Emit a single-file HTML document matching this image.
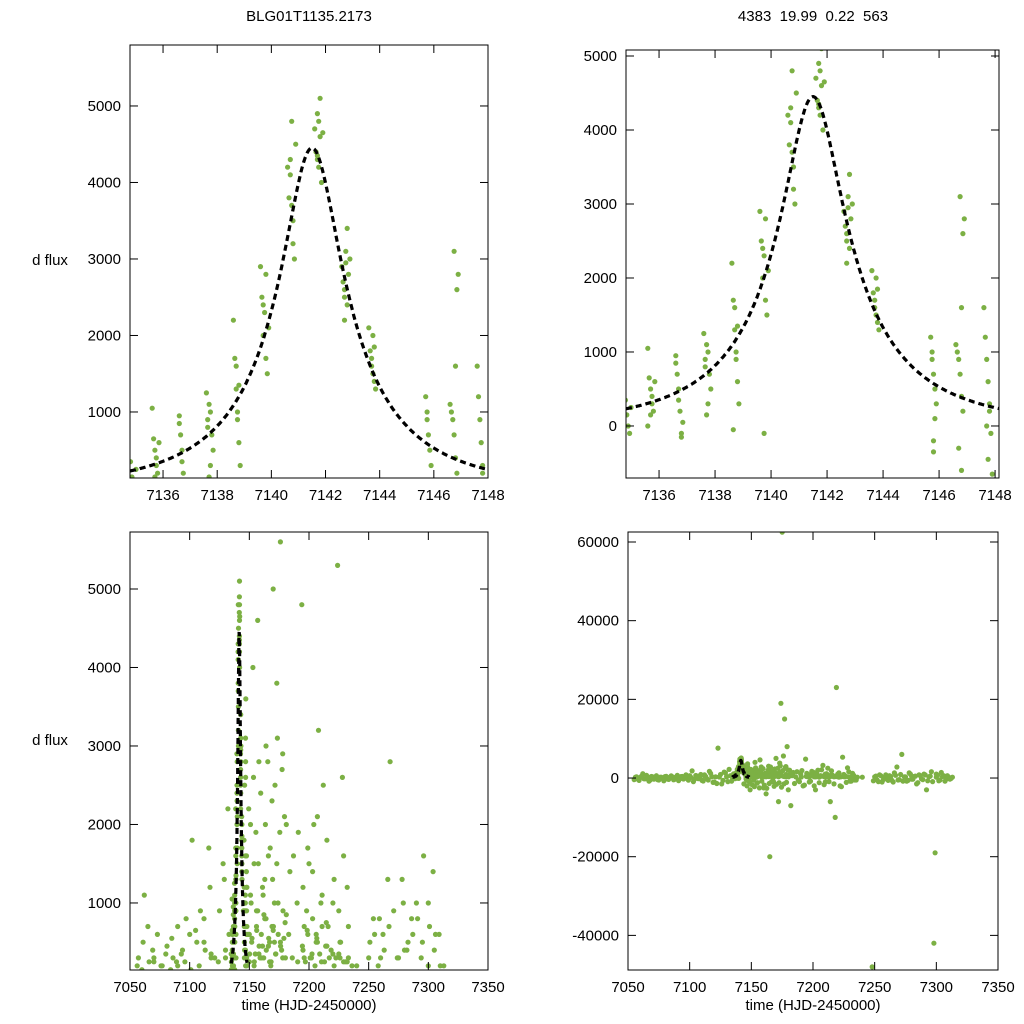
<!DOCTYPE html>
<html><head><meta charset="utf-8">
<style>
html,body{margin:0;padding:0;background:#fff;overflow:hidden;width:1024px;height:1024px;}
svg{display:block;font-family:"Liberation Sans",sans-serif;}
</style></head>
<body>
<svg id="c" width="1024" height="1024" viewBox="0 0 1024 1024"></svg>
<script>
// event-region data (times, d flux)
const evT = [7134.8,7134.85,7134.9,7134.95,7135.0,
7135.6,7135.65,7135.7,7135.75,7135.8,7135.85,7135.7,7135.75,7135.6,
7136.6,7136.65,7136.7,7136.75,7136.8,7136.85,7136.7,7136.8,7136.6,
7137.6,7137.65,7137.7,7137.75,7137.8,7137.85,7137.7,7137.75,7137.65,
7138.6,7138.65,7138.7,7138.75,7138.8,7138.85,7138.7,7138.8,7138.75,7138.65,
7139.6,7139.65,7139.7,7139.75,7139.8,7139.85,7139.7,7139.8,7139.75,7139.9,
7140.6,7140.65,7140.7,7140.75,7140.8,7140.85,7140.7,7140.8,7140.75,7140.9,
7141.6,7141.65,7141.7,7141.75,7141.8,7141.85,7141.7,7141.8,7141.75,7141.9,7141.7,
7142.6,7142.65,7142.7,7142.75,7142.8,7142.85,7142.7,7142.8,7142.75,7142.9,7142.7,
7143.6,7143.65,7143.7,7143.75,7143.8,7143.85,7143.7,7143.8,7143.75,
7145.7,7145.75,7145.8,7145.85,7145.9,7145.8,7145.75,7145.85,7145.8,
7146.6,7146.65,7146.7,7146.75,7146.8,7146.85,7146.7,7146.8,7146.75,7146.9,7146.85,7146.8,
7147.6,7147.65,7147.7,7147.75,7147.8,7147.85,7147.7,7147.8,7147.75,7147.9];
const evF = [350,150,0,-100,250,
1050,650,500,300,200,600,150,400,0,
950,700,500,200,-100,50,350,-150,850,
1250,800,1100,300,700,500,150,1000,900,
2200,1700,1300,900,600,300,1600,1350,1000,-50,
2900,2500,2000,2300,1700,1500,2400,2800,-100,2100,
4200,3800,4100,4800,3500,3000,4300,3200,3700,4500,
4700,4400,4900,4200,4600,4000,4350,5100,4800,4650,4300,
2900,2700,2600,3100,2400,2800,2200,3400,2950,3000,2500,
2100,1800,1600,2000,1400,1300,1700,1850,1500,
1200,900,700,500,300,-200,1000,100,-350,
1100,1000,900,700,400,200,-300,-600,3100,2800,2600,1600,
1600,1200,900,600,200,-100,0,300,-450,-650];
// non-event data (full light curve)
const bgT = [7056,7058,7060,7062,7064,7066,7068,7070,7072,7074,7076,7078,7080,7082,7084,7086,7088,7090,7092,7094,7096,7098,7100,
7102,7104,7106,7108,7110,7112,7114,7116,7118,7120,7123,7126,7128,7130,7132,7134,
7145,7146,7147,7148,7149,7150,7151,7152,7153,7154,7155,7156,7157,7158,7159,7160,7161,7162,7163,7164,7165,7166,7167,7168,7169,7170,7171,7172,7173,7174,7175,7176,7177,7178,7179,7180,7181,7182,7183,7184,7186,7188,7190,7192,7194,7196,7198,7200,7202,7204,7206,7208,7210,7212,7214,7216,7218,7219,7220,7222,7224,7226,7228,7230,7232,7234,7236,
7248,7250,7252,7254,7256,7258,7260,7262,7264,7266,7268,7270,7272,7274,7276,7278,7280,7282,7284,7286,7288,7290,7292,7294,7296,7298,7299,7300,7302,7304,7306,7308,7310,7312,
7146,7147,7148,7150,7152,7154,7156,7158,7160,7162,7164,7166,7168,7170,7172,7174,7176,7178,7180,7195,7197,7199,7201,7203,7205,7207,7209,7211,7213,7215,7217,7221,7225,7229,7233,
7149,7151,7155,7157,7161,7163,7167,7169,7171,7173,7177,7179,7181,7196,7198,7202,7206,7210,7214,7220,7226,7232,7240,7260,7280,7300,7112,7118,7124,7130,7090,7070];
const bgF = [200,-300,150,1100,-200,250,-500,300,100,-400,200,-100,350,-250,150,300,-300,700,-200,400,250,-150,600,
1800,-300,500,200,-600,800,-200,1700,300,-1000,7600,-1500,1500,400,2200,-800,
900,2500,3600,1200,-3000,600,2000,-500,4000,1500,-1200,700,4600,2800,300,-2500,1200,-4000,800,3000,-20000,1600,500,-900,2300,5000,1000,-6000,3800,19000,62500,5600,15000,2900,8000,-3000,2000,-7000,600,1400,300,-500,1000,-2000,4800,300,-800,1500,-3000,2000,500,3200,-1000,2500,-6000,700,-10000,23000,1000,-2000,5300,300,2600,-800,1200,-500,200,
-48000,300,-500,800,-1000,200,-300,600,-600,1300,2800,-400,6000,300,-800,1300,-300,400,-1500,800,-200,1000,-3000,300,1600,-42000,-19000,1000,-700,1400,600,-300,200,-100,
400,300,700,250,500,200,900,350,600,300,800,450,200,650,350,1000,500,300,750,400,250,600,300,800,200,500,350,700,250,450,300,200,350,250,300,
600,1100,350,900,450,1300,250,700,500,1500,400,550,850,700,900,300,600,1000,450,350,500,250,200,300,400,200,500,350,250,300,200,250];
// dense baseline band data
const bandT = [7055,7057,7059,7061,7063,7065,7067,7069,7071,7073,7075,7077,7079,7081,7083,7085,7087,7089,7091,7093,7095,7097,7099,7101,7103,7105,7107,7109,7111,7113,7115,7117,7119,7121,7122,7125,7127,7129,7131,7133,
7144,7145.5,7146.5,7147.5,7148.5,7149.5,7150.5,7151.5,7152.5,7153.5,7154.5,7155.5,7156.5,7157.5,7158.5,7159.5,7160.5,7161.5,7162.5,7163.5,7164.5,7165.5,7166.5,7167.5,7168.5,7169.5,7170.5,7171.5,7172.5,7173.5,7174.5,7175.5,7176.5,7177.5,7178.5,7179.5,
7185,7187,7189,7191,7193,7195,7197,7199,7201,7203,7205,7207,7209,7211,7213,7215,7217,7221,7223,7225,7227,7229,7231,7233,7235,
7249,7251,7253,7255,7257,7259,7261,7263,7265,7267,7269,7271,7273,7275,7277,7279,7281,7283,7285,7287,7289,7291,7293,7295,7297,7301,7303,7305,7307,7309,7311,7313,
7150.2,7152.2,7154.2,7156.2,7158.2,7160.2,7162.2,7164.2,7166.2,7168.2,7170.2,7172.2,7174.2,7176.2,7178.2,7180.2,7190.5,7194.5,7198.5,7202.5,7206.5,7210.5,7214.5,7218.5,7222.5,7226.5,7230.5];
const bandF = [-400,300,-600,500,-200,700,-800,400,-300,600,-500,200,-700,450,-350,550,-450,250,-650,350,-250,800,-550,150,-900,650,-150,900,-750,400,-500,1200,-1100,300,-1400,900,-600,1300,-900,600,
-1500,1800,-2000,1400,-1000,2200,-1700,1000,-2200,2600,-1300,1900,-2500,1500,-800,2400,-1800,1100,-2600,2000,-1400,2800,-900,1700,-2100,1300,-1600,2500,-1200,3100,-2300,1900,-1500,2700,-1100,2100,
-1400,1600,-900,1900,-1800,1200,-1000,1700,-2000,1400,-1200,2100,-1700,1100,-900,1800,-1500,1300,-2200,900,-1100,1600,-800,700,-500,
-700,500,-900,600,-400,800,-600,400,-1000,700,-500,900,-800,300,-600,1000,-300,500,-1200,600,-400,800,-700,500,-900,700,-500,400,-800,600,-300,200,
350,550,250,650,450,300,850,400,550,250,700,350,600,450,900,300,250,450,650,350,550,250,750,400,300,500,250];
const titleL = "BLG01T1135.2173";
const titleR = "4383  19.99  0.22  563";
const ticksTopX = [7136,7138,7140,7142,7144,7146,7148];
const ticksTopLY = [1000,2000,3000,4000,5000];
const ticksTopRY = [0,1000,2000,3000,4000,5000];
const ticksBotX = [7050,7100,7150,7200,7250,7300,7350];
const ticksBotLY = [1000,2000,3000,4000,5000];
const ticksBotRY = [-40000,-20000,0,20000,40000,60000];
// model parameters
const t0 = 7141.5, u0 = 0.22, tE = 5.2, Fs = 1227;

const NS="http://www.w3.org/2000/svg";
const svg=document.getElementById('c');
function mk(tag,attrs,parent){const e=document.createElementNS(NS,tag);for(const k in attrs)e.setAttribute(k,attrs[k]);(parent||svg).appendChild(e);return e;}
function model(t){const u=Math.sqrt(u0*u0+Math.pow((t-t0)/tE,2));return Fs*((u*u+2)/(u*Math.sqrt(u*u+4))-1);}
const allT=evT.concat(bgT,bandT), allF=evF.concat(bgF,bandF);

function panel(name,box,xr,yr,xt,yt,T,F,showX,mr){
  const [L,Tp,R,B]=box;
  const sx=v=>L+(v-xr[0])/(xr[1]-xr[0])*(R-L);
  const sy=v=>B-(v-yr[0])/(yr[1]-yr[0])*(B-Tp);
  const g=mk('g',{});
  
  
  const cid='clip-'+name;
  const cp=mk('clipPath',{id:cid},g);mk('rect',{x:L,y:Tp,width:R-L,height:B-Tp},cp);
  const pts=mk('g',{'clip-path':`url(#${cid})`,fill:'#7cb044'},g);
  
  
  for(let i=0;i<T.length;i++){
    const c=mk('circle',{cx:sx(T[i]).toFixed(1),cy:sy(F[i]).toFixed(1),r:2.6},pts);
    
    
  }
  let d='';const n=400;
  for(let i=0;i<=n;i++){const t=mr[0]+(mr[1]-mr[0])*i/n;d+=(i?'L':'M')+sx(t).toFixed(1)+','+sy(model(t)).toFixed(1);}
  const ml=mk('path',{d,fill:'none',stroke:'#000','stroke-width':3.2,'stroke-dasharray':'6,4','clip-path':`url(#${cid})`},g);
  
  
  const fr=mk('rect',{x:L,y:Tp,width:R-L,height:B-Tp,fill:'none',stroke:'#000','stroke-width':1},g);
  
  
  xt.forEach(v=>{const x=sx(v);
    mk('line',{x1:x,y1:B,x2:x,y2:B-8,stroke:'#000'},g);mk('line',{x1:x,y1:Tp,x2:x,y2:Tp+8,stroke:'#000'},g);
    const tx=mk('text',{x:x,y:B+22,'font-size':15,'text-anchor':'middle'},g);tx.textContent=v;
    
    });
  yt.forEach(v=>{const y=sy(v);
    mk('line',{x1:L,y1:y,x2:L+8,y2:y,stroke:'#000'},g);mk('line',{x1:R,y1:y,x2:R-8,y2:y,stroke:'#000'},g);
    const tx=mk('text',{x:L-9,y:y+5,'font-size':15,'text-anchor':'end'},g);tx.textContent=v;
    
    });
  if(showX){const tx=mk('text',{x:(L+R)/2,y:B+40,'font-size':15,'text-anchor':'middle'},g);tx.textContent='time (HJD-2450000)';
    
    }
}
panel('top-left-panel',[130,45,488,478],[7134.78,7148.0],[137,5797],ticksTopX,ticksTopLY,evT,evF,false,[7134.78,7148.0]);
panel('top-right-panel',[626,50,999,478],[7134.82,7148.14],[-703,5081],ticksTopX,ticksTopRY,evT,evF,false,[7134.82,7148.14]);
panel('bottom-left-panel',[130,532,488,970],[7050,7350],[146,5726],ticksBotX,ticksBotLY,allT,allF,true,[7134.8,7148.1]);
panel('bottom-right-panel',[628,532,998,970],[7050,7350],[-48800,62540],ticksBotX,ticksBotRY,allT,allF,true,[7134.8,7148.1]);

function txt(name,x,y,s){const t=mk('text',{x,y,'font-size':15,'text-anchor':'middle',style:'white-space:pre'});t.textContent=s;
  
  }
txt('title-left',309,21,titleL);
txt('title-right',813,21,titleR);
txt('y-axis-title-top',50,265,'d flux');
txt('y-axis-title-bottom',50,745,'d flux');
</script>
</body></html>
